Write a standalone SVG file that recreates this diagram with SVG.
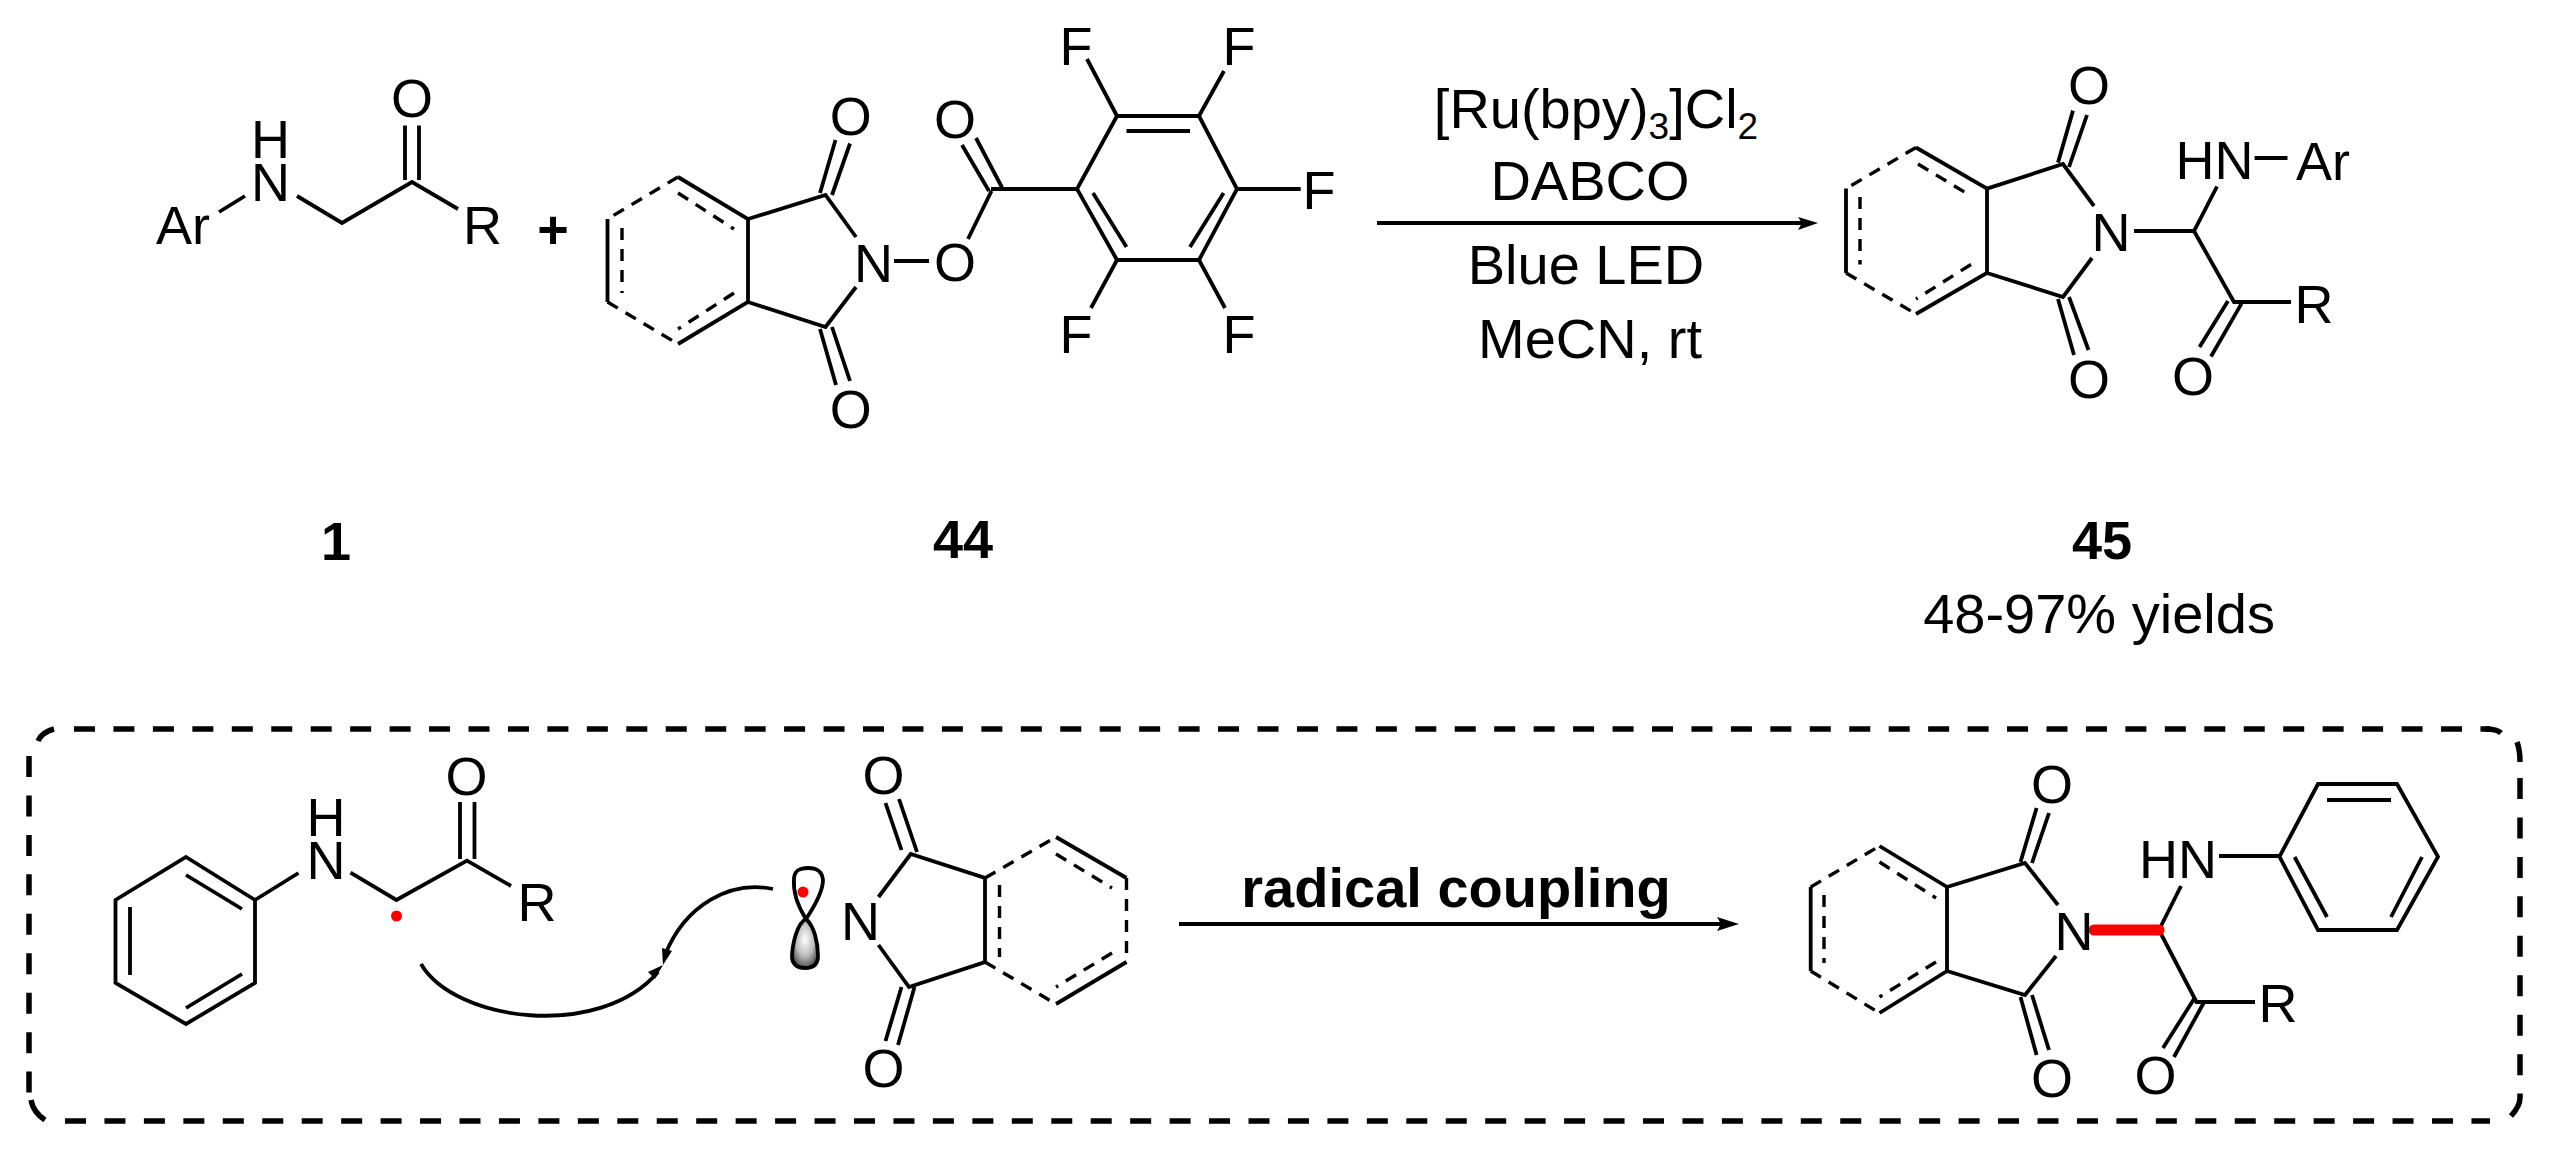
<svg xmlns="http://www.w3.org/2000/svg" width="2550" height="1154" viewBox="0 0 2550 1154">
<style>
text{font-family:"Liberation Sans",Arial,sans-serif;fill:#000;font-size:54px;text-anchor:middle}
.r{font-size:56px}
.bd{font-weight:bold}
.sub{font-size:37px}
path{fill:none;stroke:#000;stroke-width:3.8;stroke-linecap:butt;stroke-linejoin:miter}
.dsh{stroke-width:3.4;stroke-dasharray:12 9}
.box{stroke-width:5.5;stroke-dasharray:21 18.45}
.head{fill:#000;stroke:none}
.red{fill:#f00;stroke:none}
</style>
<defs>
<radialGradient id="lobe" cx="0.5" cy="0.42" r="0.62">
<stop offset="0" stop-color="#fff"/><stop offset="0.55" stop-color="#bbb"/><stop offset="1" stop-color="#444"/>
</radialGradient>
</defs>
<rect width="2550" height="1154" fill="#fff"/>

<g id="mol-1">
<path d="M219 212L245 196M297 196L342 223L412 182L458 209M405 180V125.500M419 180V125.500"/>
<text x="183" y="244">Ar</text><text x="270.500" y="158">H<tspan x="270.500" y="201">N</tspan></text><text x="412" y="117">O</text><text x="482.500" y="244">R</text>
<text x="336" y="560" class="bd">1</text>
</g>
<g id="plus"><text x="553" y="248" class="bd">+</text></g>

<g id="mol-44">
<path d="M678 177L748 219V302L678 344M607.500 219V302M748 219L825.500 195L856 237M748 302L825.500 327L856 287"/>
<path class="dsh" d="M678 177L607.500 219M607.500 302L678 344M678 193L734 229M734 293L678 329M622 228V293"/>
<path d="M820 193L835.500 140M832 195L850 143.500M820 329L836 385M832 327L850 381"/>
<path d="M894 261H929M968 239L991.500 191M962 145L989 191M976 138L1002 187.500M991 189H1077"/>
<path d="M1077 189L1117 116H1199L1237 189L1199 260H1117ZM1126.500 131H1190M1093 193L1126.500 247M1223.600 193L1190 247"/>
<path d="M1117 116L1087 59M1199 116L1224 71M1237 189H1300.700M1117 260L1091 308M1199 260L1225 308"/>
<text x="850.700" y="135">O</text><text x="850.700" y="428">O</text><text x="873.500" y="282">N</text><text x="955" y="281">O</text><text x="955" y="137.500">O</text>
<text x="1076" y="65">F</text><text x="1239" y="65">F</text><text x="1319" y="209">F</text><text x="1076" y="353">F</text><text x="1239" y="353">F</text>
<text x="963" y="558" class="bd">44</text>
</g>

<g id="conditions">
<text x="1596" y="128" class="r">[Ru(bpy)<tspan class="sub" dy="11">3</tspan><tspan dy="-11">]Cl</tspan><tspan class="sub" dy="11">2</tspan></text>
<text x="1590" y="199.500" class="r">DABCO</text>
<text x="1586" y="284" class="r">Blue LED</text>
<text x="1590" y="358" class="r">MeCN, rt</text>
</g>

<g id="mol-45">
<path d="M1916 147.500L1987 188.600V273L1916 314M1846 188.600V273M1987 188.600L2063 164L2094 206M1987 273L2063 297L2092 258"/>
<path class="dsh" d="M1916 147.500L1846 188.600M1846 273L1916 314M1918 164L1971 196M1971 264.500L1916 299M1860 197V264.500"/>
<path d="M2058 162.600L2073 110.600M2069 167L2087 115M2058 299L2074 355M2069 297L2088.500 350"/>
<path d="M2134 231H2194L2217 186.500M2194 231L2234 302H2291M2228 301L2199.500 347M2241.500 303.600L2211 356.500M2254.600 158H2287.500"/>
<text x="2089" y="104">O</text><text x="2089" y="398">O</text><text x="2111" y="251">N</text><text x="2193" y="395">O</text><text x="2314" y="323">R</text><text x="2214.500" y="179">HN</text><text x="2323" y="180">Ar</text>
<text x="2102" y="559" class="bd">45</text>
<text x="2099" y="633" class="r">48-97% yields</text>
</g>

<g id="dashed-box">
<path class="box" d="M74 729H2490"/>
<path class="box" d="M65 1121H2490"/>
<path class="box" d="M29 756V1098"/>
<path class="box" d="M2520 778V1098"/>
<path class="box" style="stroke-dasharray:none" d="M38 741Q42 732 54 729"/>
<path class="box" style="stroke-dasharray:none" d="M31 1100Q33 1112 45 1120"/>
<path class="box" style="stroke-dasharray:none" d="M2485 729Q2497 729 2501 733"/>
<path class="box" style="stroke-dasharray:none" d="M2517 742Q2520 750 2520 762"/>
<path class="box" style="stroke-dasharray:none" d="M2520 1098Q2520 1106 2511 1116"/>
</g>

<g id="radical-1">
<path d="M186 857L255 900V983L186 1024L115.500 983V900ZM186 875L242 909M242 974L186 1008M130 907V975"/>
<path d="M255 900L298.500 873M350.500 872.700L396.400 900L467 860.700L511 886M460 859V802M474.500 859V802"/>
<text x="326" y="836">H<tspan x="326" y="879">N</tspan></text><text x="466.500" y="795">O</text><text x="537" y="921">R</text>
<circle class="red" cx="396.500" cy="916" r="5.500"/>
</g>

<g id="orbital">
<path d="M806 919C797 905 793 890 794 878C795 870 800 868 808 868C817 868 822 871 823 880C823 892 814 907 806 919Z" stroke-width="3"/>
<path d="M806 919C797 923 792 945 792 958C793 965 798 968 805 968C813 968 818 965 818 956C818 942 814 926 806 919Z" style="fill:url(#lobe)"/>
<circle class="red" cx="803" cy="892" r="5.500"/>
</g>

<g id="radical-2">
<path d="M878.500 897L910.700 854L985 878V962L909 987L878.500 945M1056 837L1126.500 878M1126.500 962L1056 1004"/>
<path class="dsh" d="M985 878L1056 837M985 962L1056 1004M1126.500 878V962M999.500 885V957M1056 854L1112 888M1112 953L1056 987"/>
<path d="M885.500 803L901.500 850M899 799L917 852M885.500 1041L901.500 987M898 1045L914.500 987"/>
<text x="883.500" y="794">O</text><text x="883.500" y="1087">O</text><text x="860.500" y="940">N</text>
</g>

<g id="product-2">
<path d="M1879.500 846L1947 887V971L1879.500 1013M1810.700 887V971M1947 887L2025 863L2058 905M1947 971L2025 995L2056 956"/>
<path class="dsh" d="M1810.700 887L1879.500 846M1810.700 971L1879.500 1013M1879.500 862L1936 898M1936 962L1879.500 997M1824 895V963"/>
<path d="M2020.500 862L2036.600 808M2032 863L2049 813M2020.500 997L2036.600 1055M2032 995L2049 1050"/>
<path d="M2159 930L2181 886M2159 930L2196.500 1002H2255M2194.600 998L2163 1048M2203.600 1003L2174 1057M2219 856H2279.500"/>
<path d="M2279.500 856.700L2318 784H2397L2438 856.700L2397 930H2318ZM2327 800H2391M2294.600 857L2327 917M2422 857L2391 917"/>
<path d="M2094 930H2159" style="stroke:#f00;stroke-width:11;stroke-linecap:round"/>
<text x="2052" y="803">O</text><text x="2052" y="1097">O</text><text x="2074" y="950">N</text><text x="2178" y="878">HN</text><text x="2278" y="1022">R</text><text x="2155.500" y="1094">O</text>
</g>

<g id="connectors">
<path d="M1377 223H1805"/>
<path class="head" d="M1818 223L1798 217L1802 223L1798 230Z"/>
<text x="1456" y="907" class="bd r">radical coupling</text>
<path d="M1179 924H1725"/>
<path class="head" d="M1739 924L1717 917L1721 924L1717 931Z"/>
<path d="M421 964C455 1022 600 1040 658 972"/>
<path class="head" d="M663 965L648 972L655 979Z"/>
<path d="M773 889C730 880 685 905 665 955"/>
<path class="head" d="M663 965L662 948L672 951Z"/>
</g>
</svg>
